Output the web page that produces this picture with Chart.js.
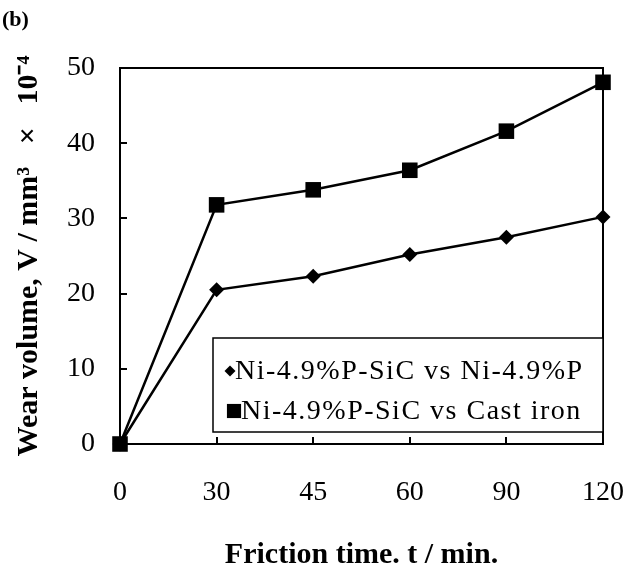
<!DOCTYPE html>
<html>
<head>
<meta charset="utf-8">
<script src="https://cdn.jsdelivr.net/npm/chart.js@4.4.0/dist/chart.umd.min.js"></script>
<style>
  html, body { margin: 0; padding: 0; background: #fff; }
  #wrap { width: 627px; height: 570px; }
</style>
</head>
<body>
<div id="wrap"><canvas id="wear-chart" width="627" height="570"></canvas></div>
<script>
// Datos del gráfico
const timeLabels = ['0', '30', '45', '60', '90', '120'];
const wearNiP = [0, 20.5, 22.3, 25.2, 27.5, 30.2];
const wearCastIron = [0, 31.8, 33.8, 36.4, 41.6, 48.1];
const yTicks = [0, 10, 20, 30, 40, 50];
const seriesNames = ['Ni-4.9%P-SiC vs Ni-4.9%P', 'Ni-4.9%P-SiC vs Cast iron'];

const SERIF = "'Liberation Serif', 'Times New Roman', serif";

// Marco, ticks hacia dentro, leyenda y "(b)"
const framePlugin = {
  id: 'frame',
  beforeDatasetsDraw(chart) {
    const { ctx, chartArea: a, scales } = chart;
    ctx.save();
    ctx.strokeStyle = '#000';
    ctx.lineWidth = 2;
    ctx.strokeRect(a.left, a.top, a.right - a.left, a.bottom - a.top);
    ctx.beginPath();
    yTicks.slice(1, -1).forEach(v => {
      const y = Math.round(scales.y.getPixelForValue(v));
      ctx.moveTo(a.left, y);
      ctx.lineTo(a.left + 7, y);
    });
    timeLabels.slice(1, -1).forEach((l, i) => {
      const x = Math.round(scales.x.getPixelForValue(i + 1));
      ctx.moveTo(x, a.bottom);
      ctx.lineTo(x, a.bottom - 7);
    });
    ctx.stroke();
    ctx.restore();
  },
  afterDraw(chart) {
    const { ctx, chartArea: a } = chart;
    ctx.save();
    // Leyenda
    const lw = 390, lh = 94;
    const lx = a.right - lw, ly = a.bottom - 106;
    ctx.fillStyle = '#fff';
    ctx.fillRect(lx, ly, lw, lh);
    ctx.strokeStyle = '#000';
    ctx.lineWidth = 1.5;
    ctx.strokeRect(lx, ly, lw, lh);
    ctx.font = '28px ' + SERIF;
    ctx.letterSpacing = '1.5px';
    ctx.textBaseline = 'middle';
    chart.data.datasets.forEach((ds, i) => {
      const cy = ly + 33 + i * 40;
      ctx.fillStyle = '#000';
      Chart.helpers.drawPoint(ctx, {
        pointStyle: ds.pointStyle,
        radius: i === 0 ? 5.5 : 10,
        rotation: 0
      }, lx + (i === 0 ? 17 : 21), cy);
      ctx.fillStyle = '#000';
      ctx.fillText(ds.label, lx + (i === 0 ? 22 : 28), cy + 1);
    });
    // Etiqueta del panel
    ctx.letterSpacing = '0px';
    ctx.font = 'bold 22px ' + SERIF;
    ctx.textBaseline = 'top';
    ctx.fillText('(b)', 2, 9);
    ctx.restore();
  }
};

const ctx = document.getElementById('wear-chart').getContext('2d');
const chart = new Chart(ctx, {
  type: 'line',
  data: {
    labels: timeLabels,
    datasets: [
      {
        label: seriesNames[0],
        data: wearNiP,
        borderColor: '#000',
        backgroundColor: '#000',
        borderWidth: 2.5,
        pointStyle: 'rectRot',
        pointRadius: 7.5,
        pointBorderWidth: 0,
        tension: 0,
        clip: false
      },
      {
        label: seriesNames[1],
        data: wearCastIron,
        borderColor: '#000',
        backgroundColor: '#000',
        borderWidth: 2.5,
        pointStyle: 'rect',
        pointRadius: 11,
        pointBorderWidth: 0,
        tension: 0,
        clip: false
      }
    ]
  },
  options: {
    responsive: false,
    animation: false,
    layout: { padding: { left: 0, right: 24, top: 68, bottom: 0 } },
    plugins: {
      legend: { display: false },
      tooltip: { enabled: false }
    },
    scales: {
      x: {
        type: 'category',
        offset: false,
        afterFit: s => { s.height = 126; s.paddingLeft = 0; s.paddingRight = 0; },
        grid: { display: false, drawTicks: false },
        border: { display: false },
        ticks: {
          color: '#000',
          padding: 32,
          maxRotation: 0,
          autoSkip: false,
          font: { family: SERIF, size: 28 }
        },
        title: {
          display: true,
          text: 'Friction time. t / min.',
          color: '#000',
          padding: { top: 0, bottom: 0 },
          font: { family: SERIF, size: 30, weight: 'bold', lineHeight: 1 }
        }
      },
      y: {
        min: 0,
        max: 50,
        afterFit: s => { s.width = 120; s.paddingTop = 0; s.paddingBottom = 0; },
        afterBuildTicks: s => { s.ticks = yTicks.map(v => ({ value: v })); },
        grid: { display: false, drawTicks: false },
        border: { display: false },
        ticks: {
          color: '#000',
          padding: 25,
          font: { family: SERIF, size: 28 }
        },
        title: {
          display: true,
          text: 'Wear volume, V / mm\u00B3   \u00D7   10\u207B\u2074',
          color: '#000',
          padding: { top: 14, bottom: 0 },
          font: { family: SERIF, size: 30, weight: 'bold', lineHeight: 1 }
        }
      }
    }
  },
  plugins: [framePlugin]
});
</script>
</body>
</html>
